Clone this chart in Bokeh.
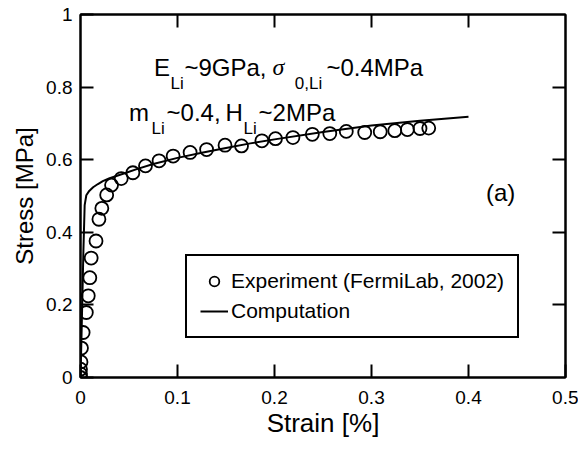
from bokeh.plotting import figure
from bokeh.models import (Range1d, FixedTicker, LinearAxis, Legend, LegendItem,
                          Label, CustomJSTickFormatter, ColumnDataSource)
from bokeh.embed import file_html
from bokeh.resources import INLINE

# ---------------- data ----------------
exp_strain = [0, 0, 0, 0.0005, 0.001, 0.0027, 0.006, 0.008, 0.0096, 0.011,
              0.016, 0.019, 0.022, 0.027, 0.032, 0.042, 0.054, 0.067, 0.081,
              0.0955, 0.113, 0.130, 0.149, 0.166, 0.187, 0.201, 0.219, 0.239,
              0.257, 0.274, 0.293, 0.309, 0.324, 0.337, 0.350, 0.359]
exp_stress = [0, 0.01, 0.023, 0.043, 0.081, 0.124, 0.179, 0.225, 0.275, 0.329,
              0.376, 0.436, 0.466, 0.503, 0.53, 0.548, 0.564, 0.583, 0.597,
              0.61, 0.62, 0.628, 0.640, 0.638, 0.652, 0.658, 0.661, 0.670,
              0.672, 0.678, 0.675, 0.677, 0.680, 0.683, 0.686, 0.687]

comp_strain = [0, 0.001, 0.002, 0.003, 0.0043, 0.006, 0.009, 0.013, 0.018,
               0.023, 0.03, 0.037, 0.047, 0.058, 0.075, 0.1, 0.125, 0.15,
               0.175, 0.2, 0.25, 0.3, 0.35, 0.4]
comp_stress = [0, 0.11, 0.23, 0.35, 0.475, 0.502, 0.514, 0.524, 0.533,
               0.541, 0.549, 0.555, 0.564, 0.574, 0.588, 0.605, 0.619, 0.632,
               0.645, 0.656, 0.676, 0.694, 0.707, 0.718]

x_ticks = [0, 0.1, 0.2, 0.3, 0.4, 0.5]
x_tick_labels = ["0", "0.1", "0.2", "0.3", "0.4", "0.5"]
y_ticks = [0, 0.2, 0.4, 0.6, 0.8, 1]
y_tick_labels = ["0", "0.2", "0.4", "0.6", "0.8", "1"]

legend_labels = ["Experiment (FermiLab, 2002)", "Computation"]
x_label = "Strain [%]"
y_label = "Stress [MPa]"

FONT = "Liberation Sans"

# ---------------- figure ----------------
p = figure(width=578, height=446, x_range=Range1d(0, 0.5), y_range=Range1d(0, 1),
           output_backend="svg", toolbar_location=None,
           min_border_left=80, min_border_right=13, min_border_top=14,
           min_border_bottom=69)
p.xgrid.visible = False
p.ygrid.visible = False
p.background_fill_color = "white"
p.border_fill_color = "white"
p.outline_line_color = "black"
p.outline_line_width = 2

def style_axis(ax, ticks, labels, label_size, label_standoff, tick_standoff):
    ax.ticker = FixedTicker(ticks=ticks)
    ax.major_label_overrides = dict(zip(ticks, labels))
    ax.major_tick_in = 13
    ax.major_tick_out = 0
    ax.minor_tick_in = 0
    ax.minor_tick_out = 0
    ax.axis_line_width = 2
    ax.axis_line_color = "black"
    ax.major_tick_line_width = 2
    ax.major_tick_line_color = "black"
    ax.major_label_text_font = FONT
    ax.major_label_text_font_size = "19px"
    ax.major_label_text_color = "black"
    ax.major_label_standoff = tick_standoff
    ax.axis_label_text_font = FONT
    ax.axis_label_text_font_size = label_size
    ax.axis_label_text_font_style = "normal"
    ax.axis_label_text_color = "black"
    ax.axis_label_standoff = label_standoff

p.xaxis.axis_label = x_label
p.yaxis.axis_label = y_label
style_axis(p.xaxis[0], x_ticks, x_tick_labels, "26px", 1, 13)
style_axis(p.yaxis[0], y_ticks, y_tick_labels, "24px", 5, 8)

# box ticks on top and right
blank = CustomJSTickFormatter(code="return ''")
for ticks, place in ((x_ticks[1:-1], "above"), (y_ticks[1:-1], "right")):
    ax = LinearAxis(ticker=FixedTicker(ticks=ticks), formatter=blank)
    ax.major_tick_in = 13
    ax.major_tick_out = 0
    ax.minor_tick_in = 0
    ax.minor_tick_out = 0
    ax.axis_line_width = 2
    ax.major_tick_line_width = 2
    ax.major_label_standoff = 0
    p.add_layout(ax, place)

# ---------------- marks ----------------
exp_src = ColumnDataSource(dict(strain=exp_strain, stress=exp_stress))
comp_src = ColumnDataSource(dict(strain=comp_strain, stress=comp_stress))

r_line = p.line(x="strain", y="stress", source=comp_src, line_color="black",
                line_width=2)
r_exp = p.scatter(x="strain", y="stress", source=exp_src, marker="circle",
                  size=13, fill_color=None, line_color="black", line_width=1.8)

legend = Legend(items=[LegendItem(label=legend_labels[0], renderers=[r_exp]),
                       LegendItem(label=legend_labels[1], renderers=[r_line])],
                location=(105, 39))
legend.border_line_color = "black"
legend.border_line_width = 2
legend.border_line_alpha = 1
legend.background_fill_color = "white"
legend.background_fill_alpha = 1
legend.padding = 13
legend.spacing = 6
legend.margin = 0
legend.label_height = 24
legend.glyph_height = 24
legend.glyph_width = 28
legend.label_standoff = 3
legend.label_text_font = FONT
legend.label_text_font_size = "21px"
legend.label_text_color = "black"
p.add_layout(legend)

# ---------------- annotations ----------------
def add_text(x, y, text, size, font=FONT, style="normal"):
    p.add_layout(Label(x=x, y=y, text=text, text_font=font, text_font_size=size,
                       text_font_style=style, text_color="black",
                       text_baseline="alphabetic", text_align="left"))

MAIN = "24px"
SUB = "17px"
# line 1
add_text(0.0758, 0.855, "E", MAIN)
add_text(0.0928, 0.810, "Li", SUB)
add_text(0.1072, 0.855, "~9GPa,", MAIN)
add_text(0.1979, 0.855, "σ", MAIN, font="Liberation Serif", style="italic")
add_text(0.2210, 0.810, "0,Li", SUB)
add_text(0.2536, 0.855, "~0.4MPa", MAIN)
# line 2
add_text(0.0500, 0.731, "m", MAIN)
add_text(0.0732, 0.686, "Li", SUB)
add_text(0.0887, 0.731, "~0.4,", MAIN)
add_text(0.1495, 0.731, "H", MAIN)
add_text(0.1680, 0.686, "Li", SUB)
add_text(0.1836, 0.731, "~2MPa", MAIN)
# panel tag
add_text(0.4180, 0.510, "(a)", MAIN)

open("out.html", "w").write(file_html(p, INLINE))
